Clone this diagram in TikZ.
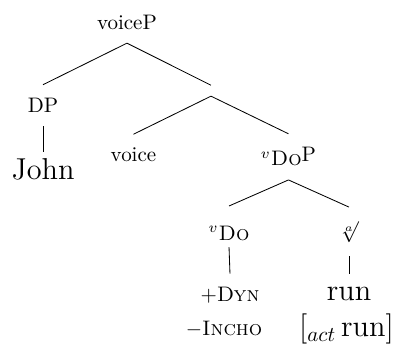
\documentclass[tikz,border=0pt]{standalone}

\begin{document}
\begin{tikzpicture}[lbl/.style = {anchor = base, inner xsep = 2pt, inner ysep = 6.3pt}]

	\useasboundingbox (0, 0) rectangle (6.661, -5.807);

	% Tree nodes

	\node [lbl] (voiceP) at (2.125, -0.490) {voiceP};
	\node [lbl] (DP) at (0.720, -1.886) {DP};
	\node [lbl, inner ysep = 3pt, font = \Large] (John) at (0.720, -3.006) {John};
	\node [inner sep = 0pt, minimum height = 4.8pt] (bar) at (3.531, -1.518) {};
	\node [lbl] (voice) at (2.234, -2.706) {voice};
	\node [lbl] (vDoP) at (4.828, -2.778) {$^{v}$\textsc{Do}\raisebox{2pt}{P}};
	\node [lbl, inner ysep = 3pt, text height = 13pt] (vDo) at (3.833, -4.017) {$^{v}$\textsc{Do}};
	\node [lbl] (root) at (5.841, -3.900) {$\sqrt[a]{}$};

	% Features and exponents

	\node [lbl] (Dyn) at (3.849, -5.049) {$+$\textsc{Dyn}};
	\node [lbl] (Incho) at (3.749, -5.623) {$-$\textsc{Incho}};
	\node [lbl, font = \Large] (run) at (5.841, -5.033) {run};
	\node [lbl, font = \Large] (actrun) at (5.799, -5.635) {[$_{act}$\,run]};

	% Branches

	\draw (voiceP.south) -- (DP.north);
	\draw (voiceP.south) -- (bar.north);
	\draw (DP.south) -- (John.north);
	\draw (bar.south) -- (voice.north);
	\draw (bar.south) -- (vDoP.north);
	\draw (vDoP.south) -- (vDo.north);
	\draw (vDoP.south) -- (root.north);
	\draw (vDo.south) -- (Dyn.north);
	\draw (root.south) -- (run.north);

\end{tikzpicture}
\end{document}
